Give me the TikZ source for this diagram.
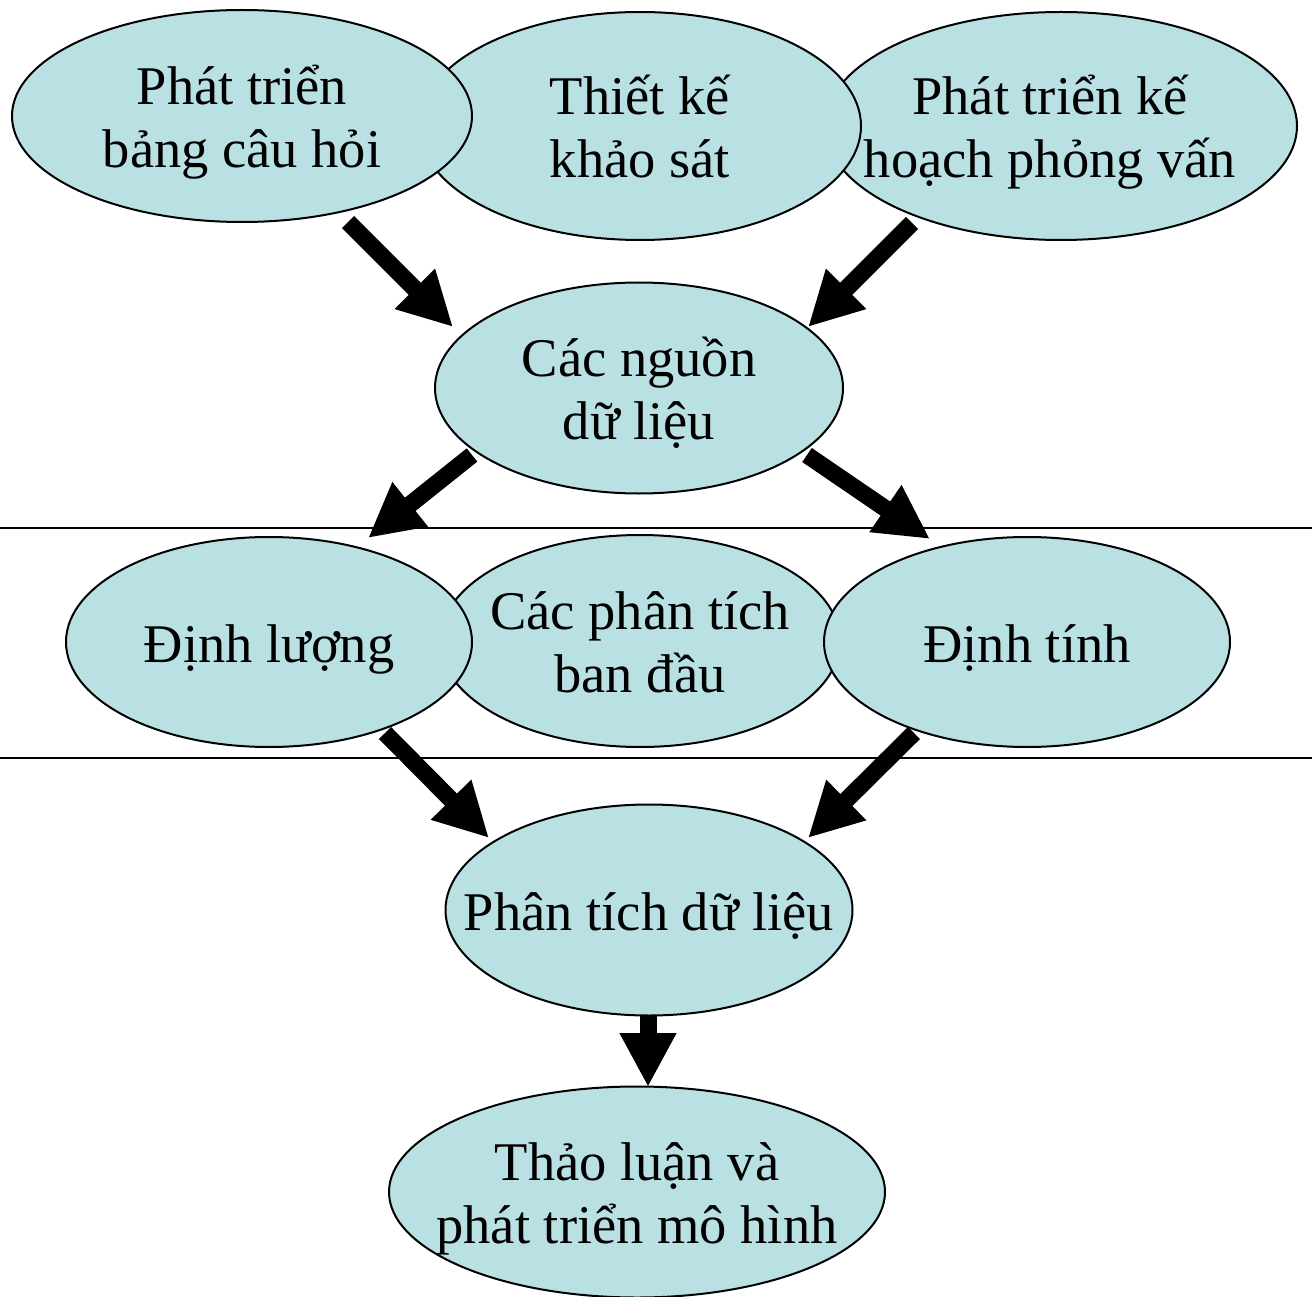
\documentclass[tikz,border=0pt]{standalone}
\usepackage{fontspec}
\setmainfont{Liberation Serif}
\usetikzlibrary{arrows.meta,calc,shapes.geometric}
\definecolor{ellfill}{HTML}{B9E0E3}
\newcommand\myline[1]{\smash{\makebox[0pt]{#1}}}
\newcommand\lift{\rule{0pt}{40pt}}
\begin{document}
\begin{tikzpicture}[x=1pt,y=-1pt,
  oval/.style={ellipse, draw=black, line width=2pt, fill=ellfill, inner sep=0pt,
               align=center, font=\fontsize{54.5pt}{63pt}\selectfont},
  bigarrow/.style={line width=17pt, -{Triangle[length=54pt,width=53pt]}},
  divider/.style={line width=2pt}]
\useasboundingbox (0,0) rectangle (1312,1297);

% dividers
\coordinate (l1a) at (0,528);
\coordinate (l1b) at (1312,528);
\coordinate (l2a) at (0,758);
\coordinate (l2b) at (1312,758);
\draw[divider] (l1a) -- (l1b);
\draw[divider] (l2a) -- (l2b);

% top row (right drawn first, left on top)
\node[oval, minimum width=472pt, minimum height=228pt] (e3) at (1061,126)
  {\lift\myline{\kern-22pt Phát triển kế}\\\myline{\kern-22pt hoạch phỏng vấn}};
\node[oval, minimum width=442pt, minimum height=228pt] (e2) at (640,126)
  {\lift\myline{Thiết kế}\\\myline{khảo sát}};
\node[oval, minimum width=460pt, minimum height=212pt] (e1) at (242,116)
  {\lift\myline{Phát triển}\\\myline{bảng câu hỏi}};

% sources
\node[oval, minimum width=408pt, minimum height=211pt] (src) at (639,388)
  {\lift\myline{Các nguồn}\\\myline{dữ liệu}};

% middle row
\node[oval, minimum width=400pt, minimum height=212pt] (e6) at (640,641)
  {\lift\myline{Các phân tích}\\\myline{ban đầu}};
\node[oval, minimum width=406pt, minimum height=210pt] (e5) at (269,642)
  {\lift\myline{Định lượng}};
\node[oval, minimum width=406pt, minimum height=210pt] (e7) at (1027,642)
  {\lift\myline{Định tính}};

% analysis
\node[oval, minimum width=407pt, minimum height=211pt] (e8) at (649,910)
  {\lift\myline{Phân tích dữ liệu}};
\node[oval, minimum width=496pt, minimum height=211pt] (e9) at (637,1192)
  {\lift\myline{Thảo luận và}\\\myline{phát triển mô hình}};

% arrows
\draw[bigarrow] ($(e1)+(106,106)$) -- ($(src)+(-186,-61)$);
\draw[bigarrow] ($(e3)+(-149,97)$) -- ($(src)+(169,-61)$);
\draw[bigarrow] ($(src)+(-167,67)$) -- ($(e5)+(99,-104)$);
\draw[bigarrow] ($(src)+(168,67)$) -- ($(e7)+(-97,-103)$);
\draw[bigarrow] ($(e5)+(116,91)$) -- ($(e8)+(-160,-72)$);
\draw[bigarrow] ($(e7)+(-113,91)$) -- ($(e8)+(159,-72)$);
\draw[bigarrow] ($(e8)+(-1,105)$) -- ($(e9)+(11,-105)$);
\end{tikzpicture}
\end{document}
